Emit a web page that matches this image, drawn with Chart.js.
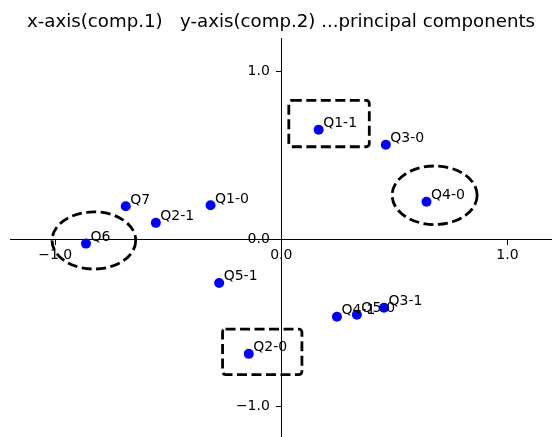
<!DOCTYPE html>
<html>
<head>
<meta charset="utf-8">
<script src="https://cdn.jsdelivr.net/npm/chart.js@4"></script>
<style>
  html, body { margin: 0; padding: 0; background: #fff; }
  #wrap { width: 552px; height: 437px; }
</style>
</head>
<body>
<div id="wrap"><canvas id="pcaChart"></canvas></div>
<script>
// 문항 라벨
const labels = ["Q1-0", "Q1-1", "Q2-0", "Q2-1", "Q3-0", "Q3-1", "Q4-0", "Q4-1", "Q5-0", "Q5-1", "Q6", "Q7"];

// 주성분 1, 2 값
const comp1 = [-0.313, 0.165, -0.144, -0.555, 0.462, 0.454, 0.642, 0.246, 0.334, -0.275, -0.864, -0.688];
const comp2 = [0.202, 0.654, -0.686, 0.097, 0.564, -0.410, 0.223, -0.464, -0.452, -0.262, -0.027, 0.196];

// 축 눈금
const xTicks = [-1, 0, 1];
const yTicks = [-1, 0, 1];

// 강조 영역 (데이터 좌표): 사각형 [x0, x1, y0, y1], 타원 [cx, cy, rx, ry]
const boxes = [
  [0.033, 0.389, 0.829, 0.552],
  [-0.260, 0.091, -0.538, -0.810],
];
const circles = [
  [0.678, 0.262, 0.188, 0.175],
  [-0.829, -0.008, 0.185, 0.171],
];

const FONT = "'DejaVu Sans', sans-serif";

function fmt(v) {
  return v.toFixed(1).replace("-", "\u2212");
}

// 가운데 축은 여백을 먹지 않게
function noPadding(scale) {
  scale.paddingTop = 0;
  scale.paddingBottom = 0;
  scale.paddingLeft = 0;
  scale.paddingRight = 0;
}

// 점 옆에 라벨 찍기
const pointLabels = {
  id: "pointLabels",
  afterDatasetsDraw(chart) {
    const ctx = chart.ctx;
    const meta = chart.getDatasetMeta(0);
    ctx.save();
    ctx.font = "14px " + FONT;
    ctx.fillStyle = "#000";
    ctx.textAlign = "left";
    ctx.textBaseline = "alphabetic";
    meta.data.forEach((pt, i) => {
      ctx.fillText(labels[i], pt.x + 4.5, pt.y - 2.5);
    });
    ctx.restore();
  },
};

// 점선 사각형 / 타원
const highlights = {
  id: "highlights",
  afterDatasetsDraw(chart) {
    const { ctx, scales } = chart;
    const sx = scales.x, sy = scales.y;
    ctx.save();
    ctx.strokeStyle = "#000";
    ctx.lineWidth = 2.8;
    ctx.setLineDash([10, 4.5]);
    boxes.forEach(([x0, x1, y0, y1]) => {
      const l = sx.getPixelForValue(x0), r = sx.getPixelForValue(x1);
      const t = sy.getPixelForValue(y0), b = sy.getPixelForValue(y1);
      ctx.beginPath();
      ctx.roundRect(l, t, r - l, b - t, 3);
      ctx.stroke();
    });
    circles.forEach(([cx, cy, rx, ry]) => {
      const px = sx.getPixelForValue(cx), py = sy.getPixelForValue(cy);
      const w = sx.getPixelForValue(cx + rx) - px;
      const h = py - sy.getPixelForValue(cy + ry);
      ctx.beginPath();
      ctx.ellipse(px, py, w, h, 0, 0, Math.PI * 2);
      ctx.stroke();
    });
    ctx.restore();
  },
};

const ctx = document.getElementById("pcaChart").getContext("2d");
new Chart(ctx, {
  type: "scatter",
  data: {
    datasets: [
      {
        data: comp1.map((x, i) => ({ x: x, y: comp2[i] })),
        backgroundColor: "#0000ff",
        borderColor: "#0000ff",
        borderWidth: 0,
        pointRadius: 5,
        pointHoverRadius: 5,
      },
    ],
  },
  options: {
    responsive: true,
    maintainAspectRatio: false,
    animation: false,
    layout: { autoPadding: false, padding: { left: 10, right: 0, top: 0, bottom: 0 } },
    plugins: {
      legend: { display: false },
      tooltip: { enabled: false },
      title: {
        display: true,
        fullSize: false,
        text: "x-axis(comp.1)   y-axis(comp.2) ...principal components",
        color: "#000",
        font: { family: FONT, size: 18.2, weight: "normal" },
        padding: { top: 11, bottom: 5.5 },
      },
    },
    scales: {
      x: {
        type: "linear",
        position: { y: 0 },
        min: -1.2,
        max: 1.197,
        afterBuildTicks: (axis) => { axis.ticks = xTicks.map((v) => ({ value: v })); },
        afterFit: noPadding,
        ticks: {
          color: "#000",
          font: { family: FONT, size: 14 },
          padding: 3,
          callback: (v) => fmt(v),
        },
        grid: { drawOnChartArea: false, drawTicks: true, tickLength: 5, tickColor: "#000" },
        border: { display: true, color: "#000", width: 1 },
      },
      y: {
        type: "linear",
        position: { x: 0 },
        min: -1.183,
        max: 1.2,
        afterBuildTicks: (axis) => { axis.ticks = yTicks.map((v) => ({ value: v })); },
        afterFit: noPadding,
        ticks: {
          color: "#000",
          font: { family: FONT, size: 14 },
          // 가운데 축이라 라벨이 축에 붙음 -> 공백으로 띄움
          callback: (v) => fmt(v) + "\u2002 ",
        },
        grid: { drawOnChartArea: false, drawTicks: true, tickLength: 5, tickColor: "#000" },
        border: { display: true, color: "#000", width: 1 },
      },
    },
  },
  plugins: [highlights, pointLabels],
});
</script>
</body>
</html>
